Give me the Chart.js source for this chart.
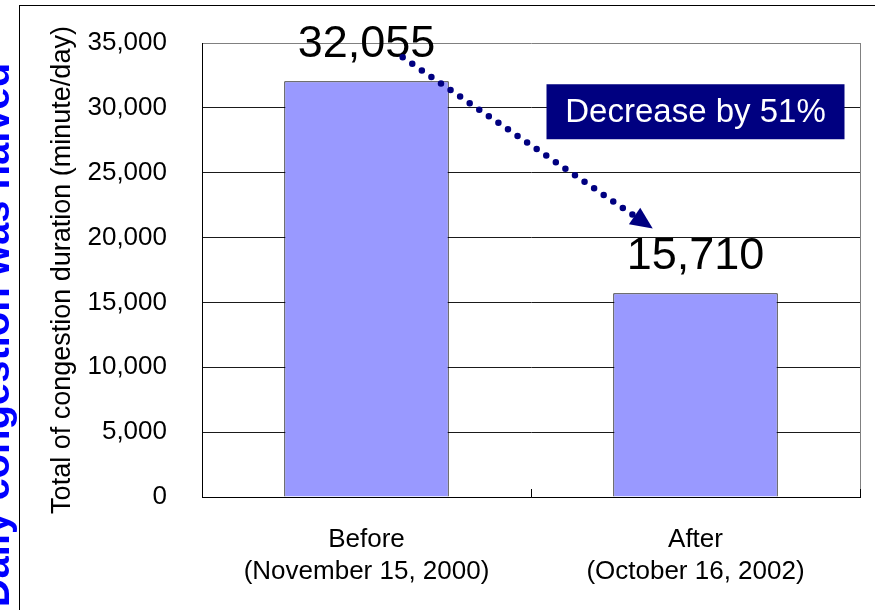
<!DOCTYPE html>
<html>
<head>
<meta charset="utf-8">
<script src="https://cdn.jsdelivr.net/npm/chart.js@4.4.1/dist/chart.umd.min.js"></script>
<style>
  html, body { margin: 0; padding: 0; background: #fff; }
  #wrap { width: 875px; height: 610px; position: relative; }
</style>
</head>
<body>
<div id="wrap"><canvas id="chart"></canvas></div>
<script>
// data
const categories = [['Before', '(November 15, 2000)'], ['After', '(October 16, 2002)']];
const durations = [32055, 15710];
const yMax = 35000;
const yStep = 5000;
const yTitle = 'Total of congestion duration (minute/day)';
const calloutText = 'Decrease by 51%';
const sideText = 'Daily congestion was halved';

const FONT = "'Liberation Sans', Arial, sans-serif";
const NAVY = '#000080';

// frame, labels, arrow and callout
const decor = {
  id: 'decor',
  beforeDraw(chart) {
    const ctx = chart.ctx;
    ctx.save();
    ctx.strokeStyle = '#000';
    ctx.lineWidth = 1;
    ctx.strokeRect(19.5, 5.5, 900, 700);
    // blue side heading, mostly cut off at the left edge
    ctx.translate(9, 335);
    ctx.rotate(-Math.PI / 2);
    ctx.fillStyle = '#0000ff';
    ctx.font = 'bold 40px ' + FONT;
    ctx.textAlign = 'center';
    ctx.fillText(sideText, 0, 0);
    ctx.restore();
  },
  afterDatasetsDraw(chart) {
    const { ctx, chartArea: a, scales: { x, y } } = chart;
    ctx.save();

    // gray right border of the plot
    ctx.strokeStyle = '#808080';
    ctx.lineWidth = 1;
    ctx.beginPath();
    ctx.moveTo(Math.round(a.right) + 0.5, a.top);
    ctx.lineTo(Math.round(a.right) + 0.5, a.bottom);
    ctx.stroke();

    // small inner tick marks between categories
    ctx.strokeStyle = '#000';
    for (let i = 0; i <= categories.length; i++) {
      const px = Math.round(x.getPixelForValue(i - 0.5)) + 0.5;
      ctx.beginPath();
      ctx.moveTo(px, a.bottom);
      ctx.lineTo(px, a.bottom - 8);
      ctx.stroke();
    }

    // value labels
    const meta = chart.getDatasetMeta(0);
    ctx.fillStyle = '#000';
    ctx.font = '45px ' + FONT;
    ctx.textAlign = 'center';
    ctx.textBaseline = 'alphabetic';
    meta.data.forEach((bar, i) => {
      ctx.fillText(durations[i].toLocaleString('en-US'), bar.x, bar.y - 24);
    });

    // dotted arrow
    const p0 = { x: x.getPixelForValue(0.11), y: y.getPixelForValue(33900) };
    const p1 = { x: x.getPixelForValue(0.87), y: y.getPixelForValue(20700) };
    const ang = Math.atan2(p1.y - p0.y, p1.x - p0.x);
    const headLen = 22, headW = 10;
    const bx = p1.x - headLen * Math.cos(ang);
    const by = p1.y - headLen * Math.sin(ang);
    ctx.strokeStyle = NAVY;
    ctx.lineWidth = 6.5;
    ctx.lineCap = 'round';
    ctx.setLineDash([0, 11.6]);
    ctx.beginPath();
    ctx.moveTo(p0.x, p0.y);
    ctx.lineTo(bx, by);
    ctx.stroke();
    ctx.setLineDash([]);
    ctx.fillStyle = NAVY;
    ctx.beginPath();
    ctx.moveTo(p1.x, p1.y);
    ctx.lineTo(bx + headW * Math.sin(ang), by - headW * Math.cos(ang));
    ctx.lineTo(bx - headW * Math.sin(ang), by + headW * Math.cos(ang));
    ctx.closePath();
    ctx.fill();

    // callout box
    const cx = x.getPixelForValue(1.0);
    const cy = y.getPixelForValue(29700);
    const bw = 298, bh = 55;
    ctx.fillStyle = NAVY;
    ctx.fillRect(cx - bw / 2, cy - bh / 2, bw, bh);
    ctx.fillStyle = '#fff';
    ctx.font = '33px ' + FONT;
    ctx.textBaseline = 'middle';
    ctx.fillText(calloutText, cx, cy + 1);

    ctx.restore();
  }
};

new Chart(document.getElementById('chart'), {
  type: 'bar',
  data: {
    labels: categories,
    datasets: [{
      data: durations,
      backgroundColor: '#9999ff',
      borderColor: '#000',
      borderWidth: 1,
      barPercentage: 0.5,
      categoryPercentage: 1
    }]
  },
  options: {
    responsive: true,
    maintainAspectRatio: false,
    animation: false,
    layout: { padding: { left: 42, top: 43, right: 15, bottom: 0 } },
    plugins: {
      legend: { display: false },
      tooltip: { enabled: false }
    },
    scales: {
      x: {
        grid: { display: false },
        border: { display: true, color: '#000', width: 1 },
        ticks: {
          color: '#000',
          font: { family: FONT, size: 26, lineHeight: '32px' },
          padding: 19,
          maxRotation: 0,
          autoSkip: false
        },
        afterFit(scale) { scale.height = 113; }
      },
      y: {
        min: 0,
        max: yMax,
        grid: {
          color: ctx => ctx.tick && ctx.tick.value === yMax ? '#808080' : '#1a1a1a',
          drawTicks: true,
          tickLength: 30,
          tickColor: 'rgba(0,0,0,0)'
        },
        border: { display: true, color: '#000', width: 1 },
        ticks: {
          stepSize: yStep,
          color: '#000',
          font: { family: FONT, size: 26 },
          padding: 5
        },
        title: {
          display: true,
          text: yTitle,
          color: '#000',
          font: { family: FONT, size: 27 }
        },
        afterFit(scale) { scale.width = 160; }
      }
    }
  },
  plugins: [decor]
});
</script>
</body>
</html>
